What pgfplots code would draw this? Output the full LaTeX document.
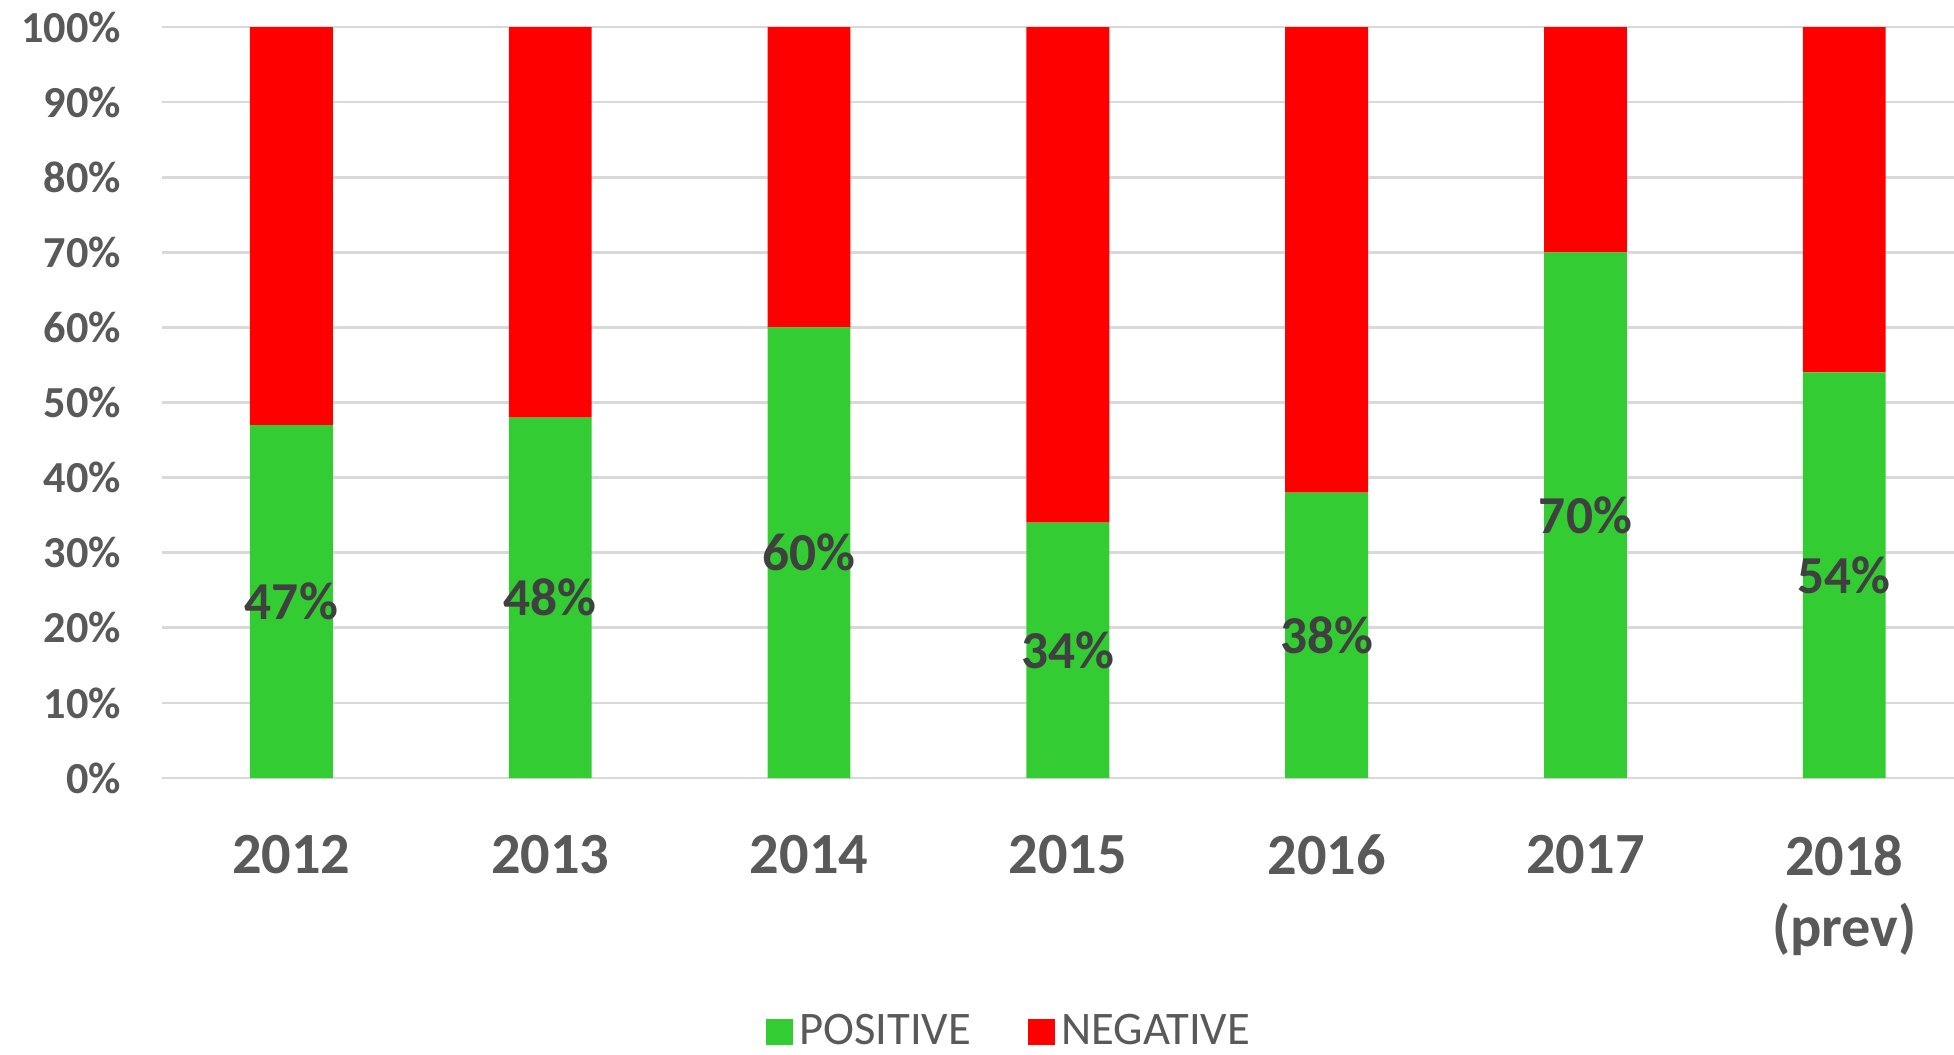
\documentclass[border=0pt]{standalone}
\usepackage{pgfplots}
\pgfplotsset{compat=1.18}
\usepackage{fontspec}
\setmainfont{Carlito}
\definecolor{posgreen}{HTML}{33CC33}
\definecolor{negred}{HTML}{FF0000}
\definecolor{gridgray}{HTML}{D9D9D9}
\definecolor{ticktext}{HTML}{595959}
\definecolor{labtext}{HTML}{404040}
\begin{document}
\begin{tikzpicture}
\useasboundingbox (-48.6pt,-82.8pt) rectangle (537.6pt,233.4pt);
\begin{axis}[
  scale only axis, width=537.6pt, height=225.3pt,
  ybar stacked, bar width=0.32,
  xmin=-0.5, xmax=6.424, ymin=0, ymax=100,
  xtick={0,1,2,3,4,5,6},
  xticklabels={2012,2013,2014,2015,2016,2017,{2018\\(prev)}},
  ytick={0,10,20,30,40,50,60,70,80,90,100},
  yticklabels={0\%,10\%,20\%,30\%,40\%,50\%,60\%,70\%,80\%,90\%,100\%},
  ymajorgrids, grid style={gridgray, line width=0.8pt},
  axis line style={draw=none}, major tick length=0pt,
  yticklabel style={font=\fontsize{13.3}{16}\selectfont\bfseries, text=ticktext, xshift=-8.8pt},
  xticklabel style={font=\fontsize{17.5}{21.3}\selectfont\bfseries, text=ticktext, align=center, anchor=north, yshift=-13.6pt},
  legend style={at={(0.474,-0.338)}, anchor=center, legend columns=2, draw=none,
    font=\fontsize{14}{16}\selectfont, text=ticktext,
    /tikz/every even column/.append style={column sep=15pt}},
  legend image code/.code={\fill[#1] (0pt,-4pt) rectangle (8pt,4pt);},
]
\addplot[fill=posgreen, draw=none]
  coordinates {(0,47)(1,48)(2,60)(3,34)(4,38)(5,70)(6,54)};
\addplot[fill=negred, draw=none]
  coordinates {(0,53)(1,52)(2,40)(3,66)(4,62)(5,30)(6,46)};
\legend{POSITIVE,NEGATIVE}
\end{axis}
\begin{axis}[
  scale only axis, width=537.6pt, height=225.3pt,
  xmin=-0.5, xmax=6.424, ymin=0, ymax=100, hide axis,
]
\addplot[only marks, mark=none, point meta=explicit symbolic,
  nodes near coords={\pgfplotspointmeta\%},
  every node near coord/.append style={font=\fontsize{16}{18}\selectfont\bfseries, text=labtext, anchor=center}]
  table[meta=lab] {
x y lab
0 23.5 47
1 24 48
2 30 60
3 17 34
4 19 38
5 35 70
6 27 54
};
\end{axis}
\end{tikzpicture}
\end{document}
